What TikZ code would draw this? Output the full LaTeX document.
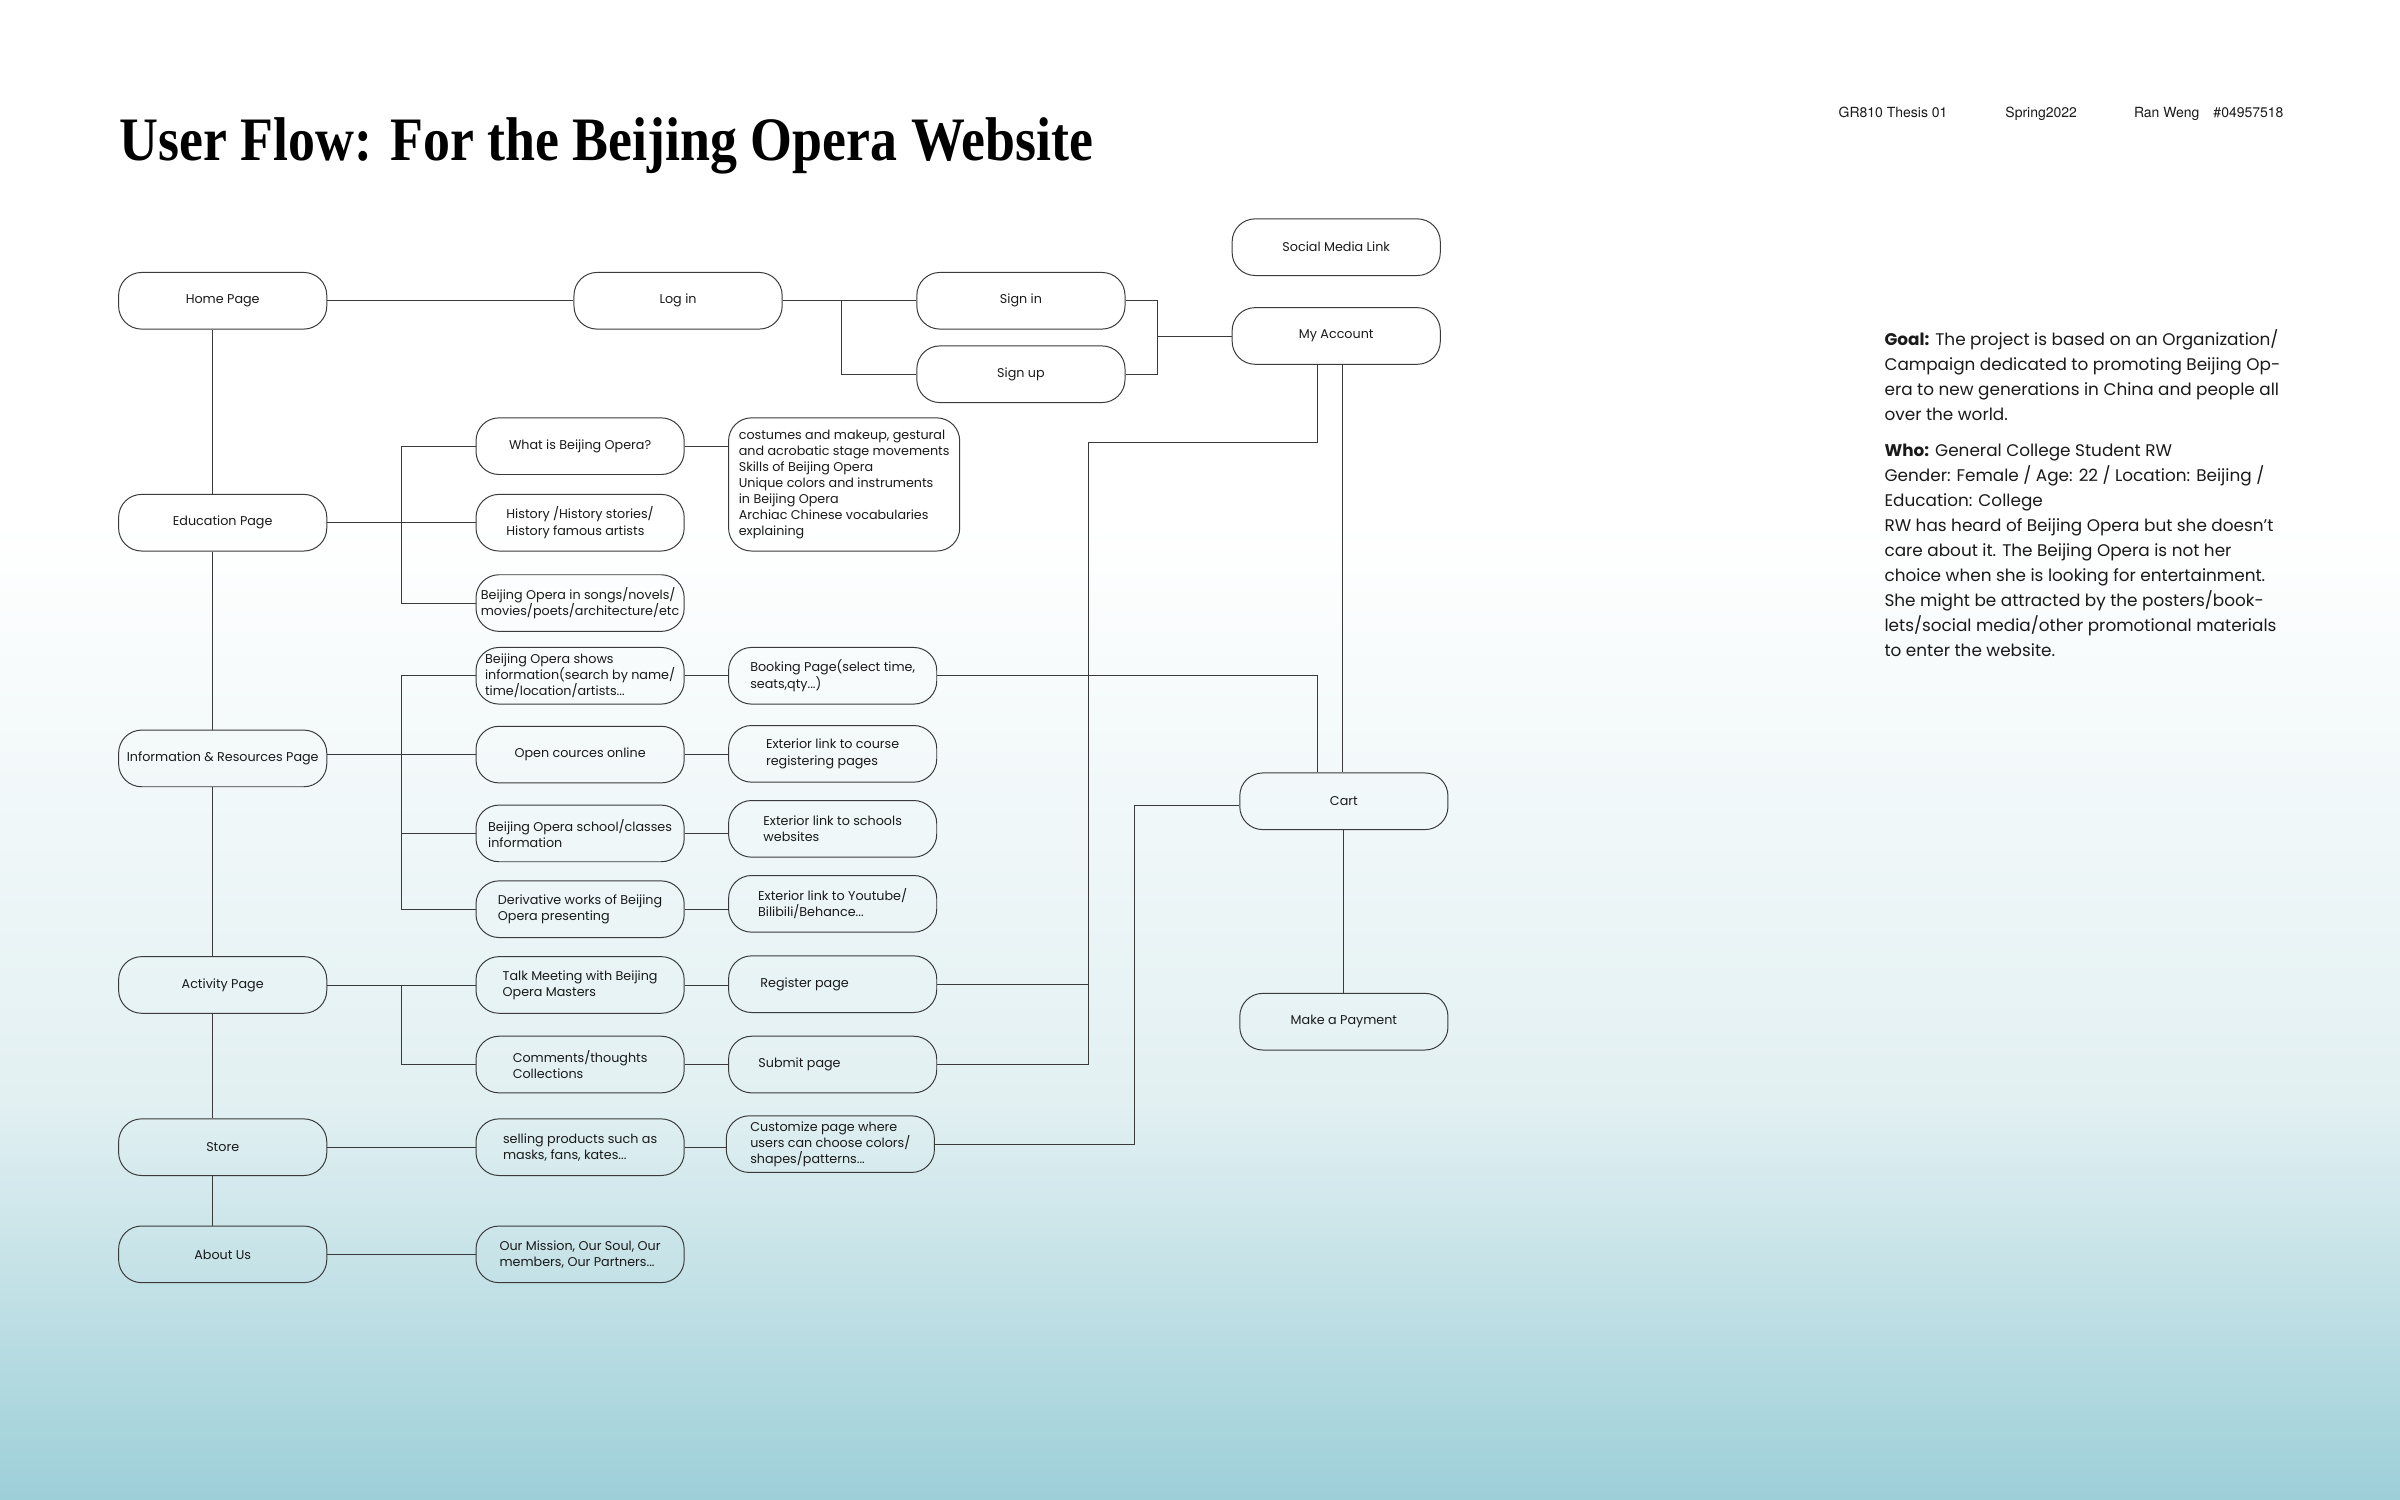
\documentclass[tikz,border=0pt]{standalone}
\usepackage{fontspec}
\usepackage{graphicx}
\usetikzlibrary{calc}
\setmainfont{Poppins}
\newfontfamily\titlefont{Liberation Serif}
\newfontfamily\headfont{TeX Gyre Heros}
\definecolor{boxline}{HTML}{3A3A3A}
\definecolor{wireclr}{HTML}{3A3A3A}
\definecolor{ink}{HTML}{1A1A1A}
\definecolor{bgmid}{HTML}{E2F0F2}
\definecolor{bgbot}{HTML}{9DCFD8}
\tikzset{
  page/.style={draw=boxline, line width=0.55pt, rounded corners=4.5mm, minimum width=40.8mm,
    minimum height=11.1mm, inner sep=1pt, align=center, text=ink, font=\fontsize{7.1}{9}\selectfont},
  sub/.style={page, align=left},
  ext/.style={page, align=left},
  wire/.style={draw=wireclr, line width=0.5pt},
  note/.style={anchor=north west, inner sep=0pt, align=left, text=ink, font=\fontsize{9.4}{13.9}\selectfont},
  head/.style={anchor=base west, inner sep=0pt, text=ink, font=\headfont\fontsize{7.8}{9}\selectfont}
}

\begin{document}
\begin{tikzpicture}[x=0.3mm, y=-0.3mm]
  \useasboundingbox (0,0) rectangle (1568,980);
  \fill[white] (0,0) rectangle (1568,980);
  \shade[top color=white, bottom color=bgmid] (0,340) rectangle (1568,721);
  \shade[top color=bgmid, bottom color=bgbot] (0,720) rectangle (1568,980);

  % heading
  \node[anchor=base west, inner sep=0pt, text=black] (title) at (78,105)
    {\resizebox{190.8mm}{8.4mm}{\titlefont\bfseries User Flow: For the Beijing Opera Website}};
  \node[head] (course) at (1201,77) {GR810 Thesis 01};
  \node[head] (term) at (1310,77) {Spring2022};
  \node[head] (author) at (1394,77) {Ran Weng\quad\#04957518};

  % main pages
  \node[page] (home) at (145.5,196.5) {Home Page};
  \node[page] (edu) at (145.5,341.5) {Education Page};
  \node[page] (info) at (145.5,495.5) {Information \& Resources Page};
  \node[page] (activity) at (145.5,643.5) {Activity Page};
  \node[page] (store) at (145.5,749.5) {Store};
  \node[page] (about) at (145.5,819.5) {About Us};

  % account
  \node[page] (login) at (443,196.5) {Log in};
  \node[page] (signin) at (667,196.5) {Sign in};
  \node[page] (signup) at (667,244.5) {Sign up};
  \node[page] (social) at (873,161.5) {Social Media Link};
  \node[page] (account) at (873,219.5) {My Account};

  % sub pages
  \node[sub] (whatis) at (379,291.5) {What is Beijing Opera?};
  \node[sub] (history) at (379,341.5) {History /History stories/\\History famous artists};
  \node[sub] (media) at (379,394) {Beijing Opera in songs/novels/\\movies/poets/architecture/etc};
  \node[sub] (shows) at (379,441.5) {Beijing Opera shows\\information(search by name/\\time/location/artists...};
  \node[sub] (courses) at (379,493) {Open cources online};
  \node[sub] (schools) at (379,544.5) {Beijing Opera school/classes\\information};
  \node[sub] (derived) at (379,594) {Derivative works of Beijing\\Opera presenting};
  \node[sub] (talk) at (379,643.5) {Talk Meeting with Beijing\\Opera Masters};
  \node[sub] (comments) at (379,695.5) {Comments/thoughts\\Collections};
  \node[sub] (selling) at (379,749.5) {selling products such as\\masks, fans, kates...};
  \node[sub] (mission) at (379,819.5) {Our Mission, Our Soul, Our\\members, Our Partners...};

  % third level
  \node[ext, minimum width=45.3mm, minimum height=26.1mm] (skills) at (551.5,316.5)
    {costumes and makeup, gestural\\and acrobatic stage movements\\Skills of Beijing Opera\\Unique colors and instruments\\in Beijing Opera\\Archiac Chinese vocabularies\\explaining};
  \node[ext] (booking) at (544,441.5) {Booking Page(select time,\\seats,qty...)};
  \node[ext] (courselink) at (544,492.5) {Exterior link to course\\registering pages};
  \node[ext] (schoollink) at (544,541.5) {Exterior link to schools\\websites};
  \node[ext] (videolink) at (544,590.5) {Exterior link to Youtube/\\Bilibili/Behance...};
  \node[ext] (register) at (544,643) {Register page\hspace*{11mm}};
  \node[ext] (submit) at (544,695.5) {Submit page\hspace*{13mm}};
  \node[ext] (custom) at (542.5,747.5) {Customize page where\\users can choose colors/\\shapes/patterns...};

  % checkout
  \node[page] (cart) at (878,523.5) {Cart};
  \node[page] (payment) at (878,667.5) {Make a Payment};

  % persona
  \node[note] (goal) at (1231,215) {\textbf{Goal:} The project is based on an Organization/\\
    Campaign dedicated to promoting Beijing Op-\\
    era to new generations in China and people all\\
    over the world.\\[2.3mm]
    \textbf{Who:} General College Student RW\\
    Gender: Female / Age: 22 / Location: Beijing /\\
    Education: College\\
    RW has heard of Beijing Opera but she doesn’t\\
    care about it. The Beijing Opera is not her\\
    choice when she is looking for entertainment.\\
    She might be attracted by the posters/book-\\
    lets/social media/other promotional materials\\
    to enter the website.};

  % log in branch
  \draw[wire] (home) -- (login);
  \draw[wire] (login) -- (signin);
  \coordinate (loginsplit) at (550,196.5);
  \draw[wire] (loginsplit) |- (signup.west);
  \coordinate (signjoin) at (756,219.5);
  \draw[wire] (signin.east) -| (signjoin) |- (signup.east);
  \draw[wire] (signjoin) -- (account.west);

  % main spine
  \foreach \a/\b in {home/edu, edu/info, info/activity, activity/store, store/about}
    \draw[wire] ([xshift=-2mm]\a.south) -- ([xshift=-2mm]\b.north);

  % brackets to sub pages
  \coordinate (edubus) at (262,341.5);
  \draw[wire] (edu) -- (history);
  \draw[wire] (whatis.west) -| (edubus) |- (media.west);
  \coordinate (infobus) at (262,493);
  \draw[wire] (courses.west) -- (courses.west -| info.east);
  \draw[wire] (shows.west) -| (infobus) |- (derived.west);
  \draw[wire] (schools.west) -- (schools.west -| infobus);
  \coordinate (actbus) at (262,643.5);
  \draw[wire] (activity) -- (talk);
  \draw[wire] (actbus) |- (comments.west);
  \draw[wire] (store) -- (selling);
  \draw[wire] (about) -- (mission);

  % sub pages to third level
  \draw[wire] (whatis.east) -- (whatis.east -| skills.west);
  \foreach \a/\b in {shows/booking, courses/courselink, schools/schoollink, derived/videolink,
                     talk/register, comments/submit, selling/custom}
    \draw[wire] (\a.east) -- (\a.east -| \b.west);

  % checkout lines
  \draw[wire] (booking.east) -| ([xshift=-5.1mm]cart.north);
  \draw[wire] ([xshift=1.2mm]account.south) -- ([xshift=1.2mm]account.south |- cart.north);
  \coordinate (actjoin) at (711,289);
  \draw[wire] ([xshift=-3.6mm]account.south) |- (actjoin) |- (submit.east);
  \draw[wire] (register.east) -- (register.east -| actjoin);
  \coordinate (custbus) at (741,600);
  \draw[wire] (custom.east) -| (custbus) |- ([yshift=-0.75mm]cart.west);
  \draw[wire] (cart) -- (payment);
\end{tikzpicture}
\end{document}
